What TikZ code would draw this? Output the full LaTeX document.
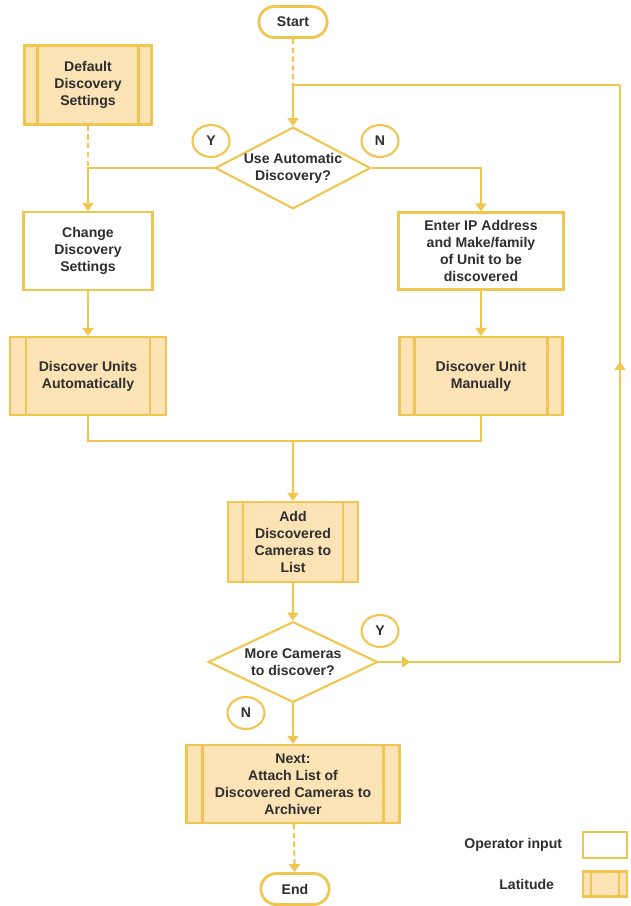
\documentclass[tikz,border=0pt]{standalone}
\usepackage{fontspec}
\setmainfont{Liberation Sans}
\usetikzlibrary{arrows.meta, positioning, shapes.geometric, shapes.misc, decorations.markings}
\definecolor{cgold}{HTML}{F0C64E}
\definecolor{cpeach}{HTML}{FBE3B6}
\definecolor{ctext}{HTML}{2E2E2E}
\tikzset{
  every picture/.style={line width=1.2pt},
  every node/.style={font=\bfseries\fontsize{8}{9.6}\selectfont, text=ctext, align=center},
  inbox/.style={draw=cgold, fill=white, inner sep=2pt},
  latbox/.style={draw=cgold, fill=cpeach, inner sep=2pt, path picture={
      \draw[cgold, line width=1.2pt]
        ([xshift=#1]path picture bounding box.north west) -- ([xshift=#1]path picture bounding box.south west)
        ([xshift=-#1]path picture bounding box.north east) -- ([xshift=-#1]path picture bounding box.south east);}},
  latbox/.default=0.3cm,
  terminal/.style={draw=cgold, fill=white, rounded rectangle, line width=1.6pt, minimum width=1.6cm, minimum height=0.62cm},
  decision/.style={draw=cgold, fill=white, diamond, inner sep=0pt},
  yesno/.style={draw=cgold, fill=white, ellipse, inner sep=0pt, minimum width=0.74cm, minimum height=0.64cm},
  link/.style={draw=cgold},
  arrow/.style={-{Triangle[length=1.6mm, width=2.2mm]}, draw=cgold},
  dashlink/.style={draw=cgold, dash pattern=on 3pt off 2pt},
  midarrow/.style={postaction={decorate}, decoration={markings,
      mark=at position #1 with {\arrow[cgold]{Triangle[length=1.6mm, width=2.2mm]}}}},
}

\begin{document}
\begin{tikzpicture}[x=0.02cm, y=-0.02cm]
  \useasboundingbox (0,0) rectangle (631,906);

  % main column
  \node[terminal] (start) at (293,22) {Start};
  \node[latbox=0.26cm, minimum width=2.54cm, minimum height=1.58cm] (defaults) at (88,85) {Default\\Discovery\\Settings};
  \node[decision, aspect=1.9] (usedecide) at (293,168) {Use Automatic\\Discovery?};
  \node[inbox, minimum width=2.58cm, minimum height=1.56cm] (change) at (88,251) {Change\\Discovery\\Settings};
  \node[inbox, minimum width=3.3cm, minimum height=1.54cm] (enterip) at (481,251) {Enter IP Address\\and Make/family\\of Unit to be\\discovered};
  \node[latbox=0.32cm, minimum width=3.12cm, minimum height=1.56cm] (autodisc) at (88,376) {Discover Units\\Automatically};
  \node[latbox, minimum width=3.26cm, minimum height=1.56cm] (mandisc) at (481,376) {Discover Unit\\Manually};
  \node[latbox, minimum width=2.6cm, minimum height=1.6cm] (addlist) at (293,542) {Add\\Discovered\\Cameras to\\List};
  \node[decision, aspect=2.1, inner sep=1.5pt] (moredecide) at (293,662) {More Cameras\\to discover?};
  \node[latbox=0.32cm, minimum width=4.26cm, minimum height=1.56cm] (attach) at (293,784) {Next:\\Attach List of\\Discovered Cameras to\\Archiver};
  \node[terminal] (stop) at (295,889) {End};

  % answers
  \node[yesno] (yauto) at (211,141) {Y};
  \node[yesno] (nauto) at (380,141) {N};
  \node[yesno] (ymore) at (380,631) {Y};
  \node[yesno] (nmore) at (246,713) {N};

  \coordinate (loopin) at (293,85);
  \coordinate (loopcorner) at (620,85);
  \coordinate (loopbase) at (620,662);
  \coordinate (ysplit) at (88,168);
  \coordinate (merge) at (293,441);

  \draw[dashlink] (start) -- (loopin);
  \draw[arrow] (loopin) -- (usedecide);
  \draw[dashlink] (defaults) -- (ysplit);
  \draw[arrow] (usedecide.west) -| (change.north);
  \draw[arrow] (usedecide.east) -| (enterip.north);
  \draw[arrow] (change) -- (autodisc);
  \draw[arrow] (enterip) -- (mandisc);
  \draw[link] (autodisc.south) |- (merge) -| (mandisc.south);
  \draw[arrow] (merge) -- (addlist);
  \draw[arrow] (addlist) -- (moredecide);
  \draw[link, midarrow=0.13] (moredecide.east) -- (loopbase);
  \draw[link, midarrow=0.52] (loopbase) -- (loopcorner);
  \draw[link] (loopcorner) -- (loopin);
  \draw[arrow] (moredecide) -- (attach);
  \draw[dashlink, arrow] (attach) -- (stop);

  % legend
  \node[inbox, minimum width=0.88cm, minimum height=0.52cm] (keyin) at (605,845) {};
  \node[latbox=0.16cm, minimum width=0.88cm, minimum height=0.5cm] (keylat) at (605,884) {};
  \node[left=0.26cm of keyin] (keyintext) {Operator input};
  \node[left=0.42cm of keylat] (keylattext) {Latitude};
\end{tikzpicture}
\end{document}
